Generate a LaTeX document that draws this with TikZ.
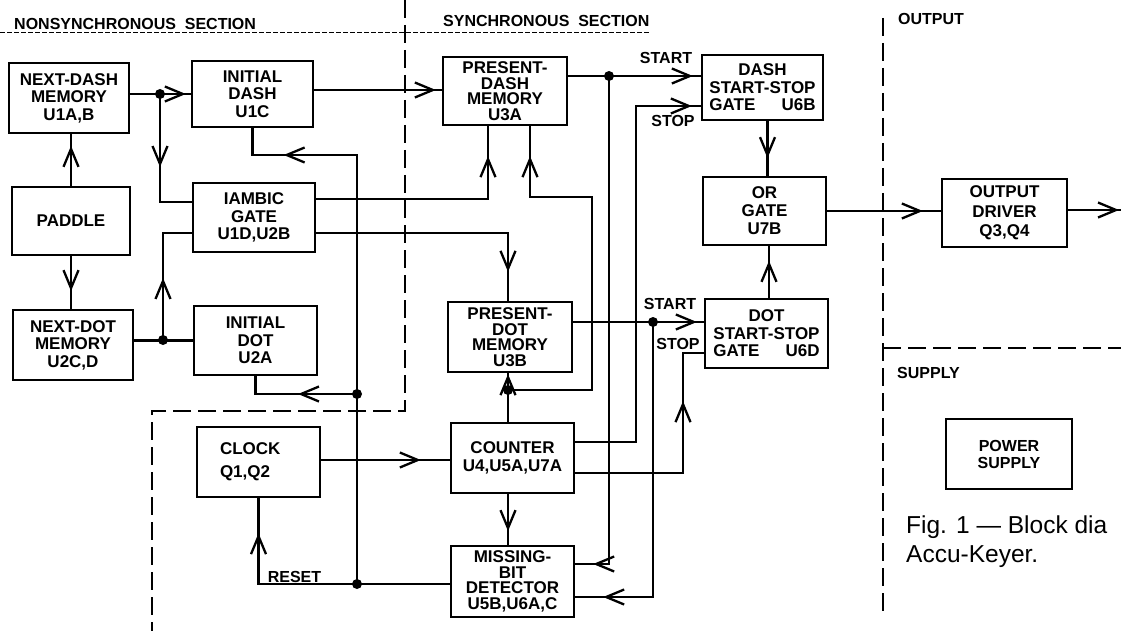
\documentclass[tikz,border=0pt]{standalone}
\usepackage{fontspec}
\setmainfont{Liberation Sans}
\usepackage{calc}
\usetikzlibrary{arrows.meta,decorations.markings}
\tikzset{
  chev/.tip={Straight Barb[length=18pt,width=15pt,line width=2.3pt]},
  ar/.style={postaction={decorate,decoration={markings,mark=at position #1 with {\arrow{chev}}}}},
  blk/.style={draw,line width=2.3pt,inner sep=2pt,align=center,font=\bfseries\fontsize{17}{17.5}\selectfont},
  blkiv/.style={blk,font=\bfseries\fontsize{17}{15.5}\selectfont},
  lbl/.style={inner sep=0pt,font=\bfseries\fontsize{16}{16}\selectfont},
  sect/.style={line width=2.2pt,dash pattern=on 18pt off 7pt},
  wire/.style={line width=2.4pt},
  jdot/.style={fill=black}
}
\begin{document}
\begin{tikzpicture}[x=1pt,y=-1pt]
\useasboundingbox (0,0) rectangle (1121,631);
\fill[white] (0,0) rectangle (1121,631);

% section boundaries
\draw[line width=0.9pt,dash pattern=on 5pt off 2pt] (0,32) -- (650,32);
\draw[sect] (405,0) -- (405,411) -- (152,411) -- (152,631);
\draw[sect] (883,18) -- (883,612);
\draw[sect] (883,348) -- (1121,348);

\node[lbl,anchor=base west] (tnon) at (14,30) {NONSYNCHRONOUS\ \ SECTION};
\node[lbl,anchor=base west] (tsyn) at (443,27) {SYNCHRONOUS\ \ SECTION};
\node[lbl,anchor=base west] (tout) at (898,25) {OUTPUT};
\node[lbl,anchor=base west] (tsup) at (897,378) {SUPPLY};

% blocks
\node[blk,minimum width=120pt,minimum height=70pt] (ndm) at (69,98) {NEXT-DASH\\MEMORY\\U1A,B};
\node[blk,minimum width=121pt,minimum height=66pt] (id) at (252.5,94) {INITIAL\\DASH\\U1C};
\node[blk,minimum width=122pt,minimum height=69pt] (ig) at (254,217.5) {IAMBIC\\GATE\\U1D,U2B};
\node[blk,minimum width=118pt,minimum height=68pt] (pad) at (71,221) {PADDLE};
\node[blk,minimum width=120pt,minimum height=70pt] (ndot) at (73,345) {NEXT-DOT\\MEMORY\\U2C,D};
\node[blk,minimum width=123pt,minimum height=69pt] (idot) at (255.5,340.5) {INITIAL\\DOT\\U2A};
\node[blkiv,minimum width=124pt,minimum height=68pt] (pdm) at (505,91) {PRESENT-\\DASH\\MEMORY\\U3A};
\node[blk,minimum width=121pt,minimum height=65pt,inner sep=1pt] (dssg) at (762.5,87.5) {DASH\\START-STOP\\\makebox[\widthof{START-STOP}]{GATE\hfill U6B}};
\node[blk,minimum width=123pt,minimum height=68pt,font=\bfseries\fontsize{17}{18}\selectfont] (or) at (764.5,211) {OR\\GATE\\U7B};
\node[blk,minimum width=125pt,minimum height=68pt,font=\bfseries\fontsize{17}{19.5}\selectfont] (od) at (1004.5,213) {OUTPUT\\DRIVER\\Q3,Q4};
\node[blk,minimum width=123pt,minimum height=69pt,inner sep=1pt] (dotssg) at (766.5,333.5) {DOT\\START-STOP\\\makebox[\widthof{START-STOP}]{GATE\hfill U6D}};
\node[blkiv,minimum width=124pt,minimum height=70pt] (pdot) at (510,337) {PRESENT-\\DOT\\MEMORY\\U3B};
\node[blk,minimum width=123pt,minimum height=70pt,font=\bfseries\fontsize{17}{18}\selectfont] (cnt) at (512.5,458) {COUNTER\\U4,U5A,U7A};
\node[blkiv,minimum width=123pt,minimum height=71pt] (mbd) at (512.5,581.5) {MISSING-\\BIT\\DETECTOR\\U5B,U6A,C};
\node[blk,minimum width=123pt,minimum height=70pt,text width=77pt,align=left,font=\bfseries\fontsize{17}{23}\selectfont] (clk) at (258.5,462) {CLOCK\\Q1,Q2};
\node[blk,minimum width=126pt,minimum height=70pt,font=\bfseries\fontsize{16}{17}\selectfont] (ps) at (1009,454) {POWER\\SUPPLY};

% junctions and bends
\coordinate (j1) at (160,94);
\coordinate (j2) at (163,340);
\coordinate (j4) at (357,584);
\coordinate (j5) at (357,394);
\coordinate (j6) at (508,390);
\coordinate (j7) at (609,76);
\coordinate (j8) at (653,322);
\coordinate (b1) at (592,197);
\coordinate (b2) at (636,106);
\coordinate (b3) at (683,353);
\coordinate (out) at (1121,210);

% connectors
\draw[wire,ar=-5pt] (ndm.east |- id.west) -- (id.west);
\draw[wire,ar=73pt] (j1) |- (ig.west |- 0,202);
\draw[wire,ar=40pt] (pad.north) -- (pad.north |- ndm.south);
\draw[wire,ar=35pt] (pad.south) -- (pad.south |- ndot.north);
\draw[wire] (ndot.east |- idot.west) -- (idot.west);
\draw[wire,ar=62pt] (j2) |- (ig.west |- 0,233);
\draw[wire,ar=-6pt] (id.east |- 0,90) -- (pdm.west |- 0,90);
\draw[wire,ar=-58pt] (j4) |- (id.south |- 0,155) -- (id.south);
\draw[wire,ar=59pt] (j5) -| (idot.south);
\draw[wire,ar=-35pt] (mbd.west |- j4) -| (clk.south);
\draw[wire,ar=-30pt] (ig.east |- 0,199) -| ([xshift=-17pt]pdm.south);
\draw[wire,ar=-29pt] (ig.east |- 0,233) -| ([xshift=-2pt]pdot.north);
\draw[wire,ar=-1pt] ([xshift=-4.5pt]cnt.north) -- ([xshift=-4.5pt]cnt.north |- pdot.south);
\draw[wire,ar=-30pt] (j6) -| (b1) -| ([xshift=25pt]pdm.south);
\draw[wire,ar=-8pt] (pdm.east |- j7) -- (dssg.west |- j7);
\draw[wire,ar=-18pt] (j7) |- (mbd.east |- 0,564);
\draw[wire,ar=-9pt] (cnt.east |- 0,442) -| (b2) -- (dssg.west |- b2);
\draw[wire,ar=-7pt] (pdot.east |- j8) -- (dotssg.west |- j8);
\draw[wire,ar=-28pt] (j8) |- (mbd.east |- 0,597);
\draw[wire,ar=-69pt] (cnt.east |- 0,473) -| (b3) -- (dotssg.west |- b3);
\draw[wire,ar=37pt] ([xshift=5pt]dssg.south) -- ([xshift=5pt]dssg.south |- or.north);
\draw[wire,ar=37pt] ([xshift=2.5pt]dotssg.north) -- ([xshift=2.5pt]dotssg.north |- or.south);
\draw[wire,ar=-18pt] (or.east) -- (od.west |- or.east);
\draw[wire,ar=-2pt] (od.east |- out) -- (out);
\draw[wire,ar=-29pt] (clk.east |- 0,460) -- (cnt.west |- 0,460);
\draw[wire,ar=37pt] ([xshift=-4.5pt]cnt.south) -- ([xshift=-4.5pt]cnt.south |- mbd.north);

\foreach \p in {j1,j2,j4,j5,j6,j7,j8} \fill[jdot] (\p) circle (5pt);

% signal labels
\node[lbl] (lstart1) at (666,57.5) {START};
\node[lbl] (lstop1) at (673,121) {STOP};
\node[lbl] (lstart2) at (670,304) {START};
\node[lbl] (lstop2) at (678,343.5) {STOP};
\node[lbl] (lreset) at (294.5,577) {RESET};

% caption
\node[inner sep=0pt,anchor=base west,font=\fontsize{24.5}{24.5}\selectfont] (cap1) at (906,533) {Fig. 1 — Block dia};
\node[inner sep=0pt,anchor=base west,font=\fontsize{24.5}{24.5}\selectfont] (cap2) at (906,562) {Accu-Keyer.};
\end{tikzpicture}
\end{document}
